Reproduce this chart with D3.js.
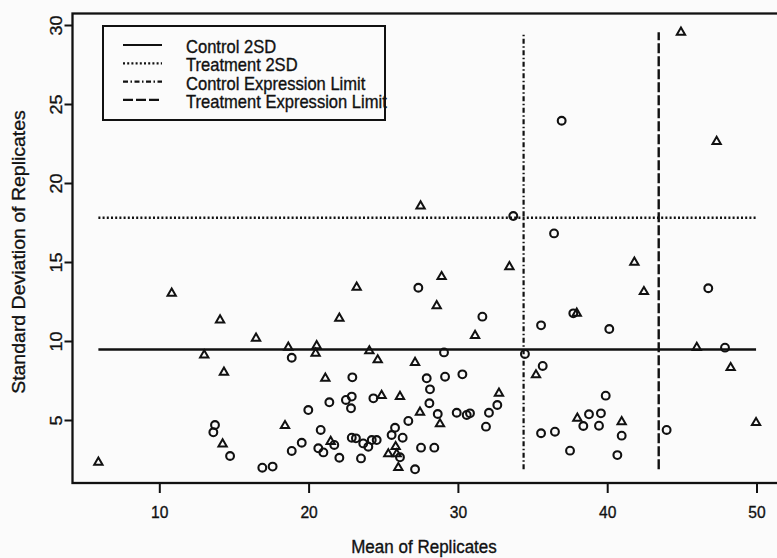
<!DOCTYPE html>
<html>
<head>
<meta charset="UTF-8">
<style>
  body { margin: 0; background: #fbfbfb; }
  svg { display: block; font-family: "Liberation Sans", Arial, Helvetica, sans-serif; }
  svg text { stroke: #111; stroke-width: 0.35px; }
</style>
</head>
<body>
<script src="https://d3js.org/d3.v7.min.js"></script>
<script>
  // control genes (circles)
  var controlMean = [18.87, 19.98, 13.73, 13.62, 14.74, 19.54, 18.87, 16.90, 17.59, 27.35,
    31.64, 29.07, 34.49, 22.93, 27.91, 29.14, 30.30, 28.13, 22.89, 22.50,
    22.84, 21.39, 24.34, 28.09, 28.65, 29.92, 30.59, 30.81, 32.08, 32.64,
    26.68, 31.88, 20.81, 25.79, 25.56, 26.30, 22.89, 23.17, 23.66, 24.00,
    24.23, 24.56, 21.72, 20.65, 20.99, 22.06, 23.51, 27.53, 28.42, 26.12,
    27.13, 46.77, 37.73, 35.57, 40.14, 47.89, 35.68, 39.90, 38.78, 39.58,
    38.40, 39.45, 35.57, 36.50, 40.97, 43.98, 37.51, 40.68, 36.95, 33.71, 36.44];
  var controlSD = [8.94, 5.63, 4.68, 4.22, 2.72, 3.56, 3.04, 1.98, 2.05, 13.37,
    11.54, 9.28, 9.18, 7.70, 7.64, 7.74, 7.89, 6.94, 6.48, 6.27,
    5.74, 6.12, 6.37, 6.06, 5.38, 5.46, 5.32, 5.42, 5.46, 5.95,
    4.94, 4.58, 4.37, 4.51, 4.05, 3.88, 3.88, 3.84, 3.52, 3.31,
    3.73, 3.73, 3.42, 3.21, 2.95, 2.61, 2.57, 3.25, 3.25, 2.64,
    1.88, 13.34, 11.75, 10.99, 10.76, 9.58, 8.42, 6.54, 5.36, 5.42,
    4.62, 4.64, 4.16, 4.26, 4.01, 4.37, 3.06, 2.78, 23.94, 17.91, 16.81];

  // treatment genes (triangles)
  var treatmentMean = [10.83, 14.07, 16.48, 18.64, 13.01, 14.33, 18.42, 14.24, 5.92, 33.45,
    28.91, 23.22, 28.58, 22.06, 31.15, 20.54, 20.47, 24.07, 24.63, 27.13,
    21.12, 24.89, 26.12, 32.75, 27.46, 28.80, 21.48, 25.83, 25.34, 25.90,
    26.01, 41.82, 42.46, 37.96, 46.00, 48.27, 35.23, 38.00, 40.97, 49.97,
    44.94, 47.33, 27.50];
  var treatmentSD = [13.02, 11.33, 10.17, 9.60, 9.11, 8.02, 4.64, 3.48, 2.32, 14.70,
    14.07, 13.40, 12.22, 11.43, 10.34, 9.70, 9.22, 9.37, 8.80, 8.63,
    7.64, 6.54, 6.48, 6.69, 5.49, 4.75, 3.63, 3.31, 2.85, 2.85,
    1.98, 14.98, 13.12, 11.75, 9.58, 8.31, 7.85, 5.11, 4.89, 4.83,
    29.54, 22.62, 18.54];

  var control2SD = 9.46;
  var treatment2SD = 17.8;
  var controlLimit = 34.4;
  var treatmentLimit = 43.45;

  var xTicks = [10, 20, 30, 40, 50];
  var yTicks = [5, 10, 15, 20, 25, 30];
  var legendLabels = ["Control 2SD", "Treatment 2SD", "Control Expression Limit", "Treatment Expression Limit"];
  var legendDash = [null, "2,2.2", "5,2.5,1.5,2.5", "10,3"];

  var W = 777, H = 558;
  var frame = {left: 72.5, top: 13.5, right: 795, bottom: 483};
  var ink = "#111";
  var squeeze = "scale(0.92,1)"; // scan is a bit narrow

  var x = d3.scaleLinear().domain([0, 50]).range([10, 756.5]);
  var y = d3.scaleLinear().domain([0, 30]).range([499, 25]);

  var svg = d3.select("body").append("svg")
    .attr("width", W).attr("height", H);

  // box
  svg.append("rect")
    .attr("x", frame.left).attr("y", frame.top)
    .attr("width", frame.right - frame.left).attr("height", frame.bottom - frame.top)
    .attr("fill", "none").attr("stroke", ink).attr("stroke-width", 2.3);

  // axes
  var gx = svg.append("g")
    .attr("transform", "translate(0," + frame.bottom + ")")
    .call(d3.axisBottom(x).tickValues(xTicks).tickSize(10).tickFormat(d3.format("d")));
  gx.select(".domain").remove();
  gx.selectAll("line").attr("stroke", ink).attr("stroke-width", 2);
  gx.selectAll("text")
    .attr("y", null).attr("dy", null)
    .attr("transform", "translate(0,35) " + squeeze)
    .attr("fill", ink).attr("font-size", 17).attr("font-family", null);

  var gy = svg.append("g")
    .attr("transform", "translate(" + frame.left + ",0)")
    .call(d3.axisLeft(y).tickValues(yTicks).tickSize(8).tickFormat(d3.format("d")));
  gy.select(".domain").remove();
  gy.selectAll("line").attr("stroke", ink).attr("stroke-width", 2);
  gy.selectAll("text")
    .attr("x", null).attr("dy", null)
    .attr("text-anchor", "middle")
    .attr("transform", "translate(-11,0) " + squeeze + " rotate(-90)")
    .attr("fill", ink).attr("font-size", 18).attr("font-family", null);

  svg.append("text")
    .attr("transform", "translate(424,553) " + squeeze)
    .attr("text-anchor", "middle").attr("font-size", 18.5).attr("fill", ink)
    .text("Mean of Replicates");

  svg.append("text")
    .attr("transform", "translate(25,252) " + squeeze + " rotate(-90)")
    .attr("text-anchor", "middle").attr("font-size", 19.5).attr("fill", ink)
    .text("Standard Deviation of Replicates");

  // reference lines
  var allMean = controlMean.concat(treatmentMean);
  var allSD = controlSD.concat(treatmentSD);
  var mx = d3.extent(allMean), sy = d3.extent(allSD);

  svg.append("line")
    .attr("x1", x(mx[0])).attr("x2", x(mx[1]))
    .attr("y1", y(control2SD)).attr("y2", y(control2SD))
    .attr("stroke", ink).attr("stroke-width", 2.5);
  svg.append("line")
    .attr("x1", x(mx[0])).attr("x2", x(mx[1]))
    .attr("y1", y(treatment2SD)).attr("y2", y(treatment2SD))
    .attr("stroke", ink).attr("stroke-width", 2.3).attr("stroke-dasharray", legendDash[1]);
  svg.append("line")
    .attr("x1", x(controlLimit)).attr("x2", x(controlLimit))
    .attr("y1", y(sy[0])).attr("y2", y(sy[1]))
    .attr("stroke", ink).attr("stroke-width", 2.2).attr("stroke-dasharray", legendDash[2]);
  svg.append("line")
    .attr("x1", x(treatmentLimit)).attr("x2", x(treatmentLimit))
    .attr("y1", y(sy[0])).attr("y2", y(sy[1]))
    .attr("stroke", ink).attr("stroke-width", 2.4).attr("stroke-dasharray", legendDash[3]);

  // points
  svg.append("g").selectAll("circle")
    .data(controlMean)
    .join("circle")
    .attr("cx", function(d) { return x(d); })
    .attr("cy", function(d, i) { return y(controlSD[i]); })
    .attr("r", 3.9)
    .attr("fill", "none").attr("stroke", ink).attr("stroke-width", 2.1);

  var tri = d3.symbol().type(d3.symbolTriangle).size(30);
  svg.append("g").selectAll("path")
    .data(treatmentMean)
    .join("path")
    .attr("d", tri)
    .attr("transform", function(d, i) { return "translate(" + x(d) + "," + y(treatmentSD[i]) + ")"; })
    .attr("fill", "none").attr("stroke", ink).attr("stroke-width", 2).attr("stroke-linejoin", "miter");

  // legend
  var lg = svg.append("g");
  lg.append("rect")
    .attr("x", 103).attr("y", 26).attr("width", 282).attr("height", 94)
    .attr("fill", "none").attr("stroke", ink).attr("stroke-width", 2);
  legendLabels.forEach(function(lab, i) {
    var base = 53 + i * 18.3;
    lg.append("line")
      .attr("x1", 123).attr("x2", 162)
      .attr("y1", base - 8).attr("y2", base - 8)
      .attr("stroke", ink).attr("stroke-width", 2.2)
      .attr("stroke-dasharray", legendDash[i]);
    lg.append("text")
      .attr("transform", "translate(186," + base + ") " + squeeze)
      .attr("font-size", 18).attr("fill", ink)
      .text(lab);
  });
</script>
</body>
</html>
